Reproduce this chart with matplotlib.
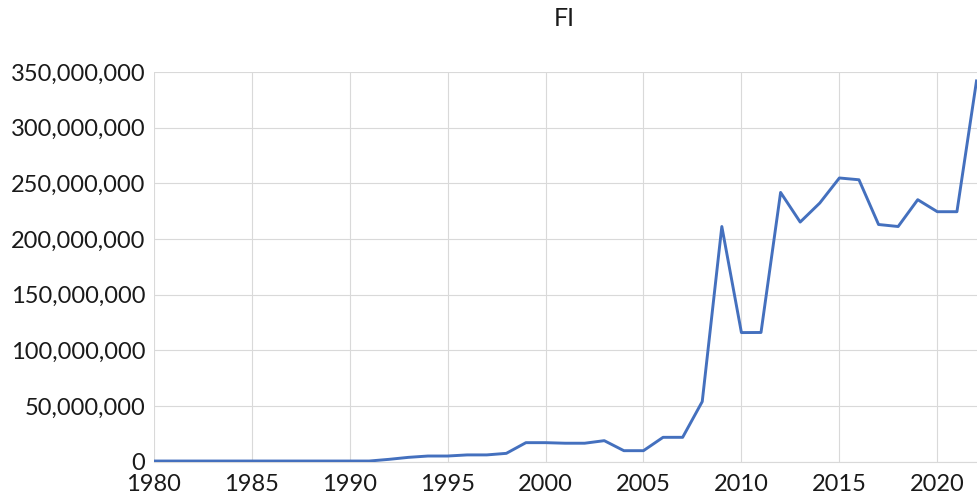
import matplotlib.pyplot as plt
from matplotlib.ticker import FuncFormatter

years = list(range(1980, 2023))
fi_values = [
    0.5e6, 0.5e6, 0.5e6, 0.5e6, 0.5e6, 0.5e6, 0.5e6, 0.5e6, 0.5e6, 0.5e6,  # 1980-1989
    0.5e6, 0.5e6, 2.0e6, 3.8e6, 5.0e6, 5.0e6, 6.0e6, 6.0e6, 7.4e6, 17.0e6,  # 1990-1999
    17.0e6, 16.5e6, 16.5e6, 18.8e6, 9.8e6, 9.8e6, 21.8e6, 21.8e6, 53.9e6, 211.2e6,  # 2000-2009
    115.9e6, 116.0e6, 241.8e6, 215.2e6, 232.3e6, 254.8e6, 253.2e6, 213.0e6, 211.2e6, 235.3e6,  # 2010-2019
    224.5e6, 224.5e6, 342.0e6,  # 2020-2022
]
x_ticks = [1980, 1985, 1990, 1995, 2000, 2005, 2010, 2015, 2020]
y_ticks = [0, 50e6, 100e6, 150e6, 200e6, 250e6, 300e6, 350e6]

plt.rcParams['font.family'] = ['Lato', 'DejaVu Sans']

fig = plt.figure(figsize=(9.77, 4.95), dpi=100)
ax = fig.add_axes([0.1573, 0.0675, 0.8422, 0.787])

ax.plot(years, fi_values, color='#4470BE', linewidth=2.1, zorder=3)

ax.set_xlim(1980, 2022)
ax.set_ylim(0, 350e6)
ax.set_xticks(x_ticks)
ax.set_yticks(y_ticks)
ax.yaxis.set_major_formatter(FuncFormatter(lambda v, p: f"{int(v):,}"))

ax.grid(True, color='#d9d9d9', linewidth=0.8)
ax.set_axisbelow(True)
for side in ['top', 'right', 'left']:
    ax.spines[side].set_visible(False)
ax.spines['bottom'].set_color('#d9d9d9')
ax.tick_params(length=0, labelsize=17, colors='#1a1a1a')
ax.tick_params(axis='y', pad=6)
ax.tick_params(axis='x', pad=9)

fig.text(0.578, 0.962, "FI", ha='center', va='center', fontsize=18, color='#1a1a1a')

fig.savefig("out.png", dpi=100)
